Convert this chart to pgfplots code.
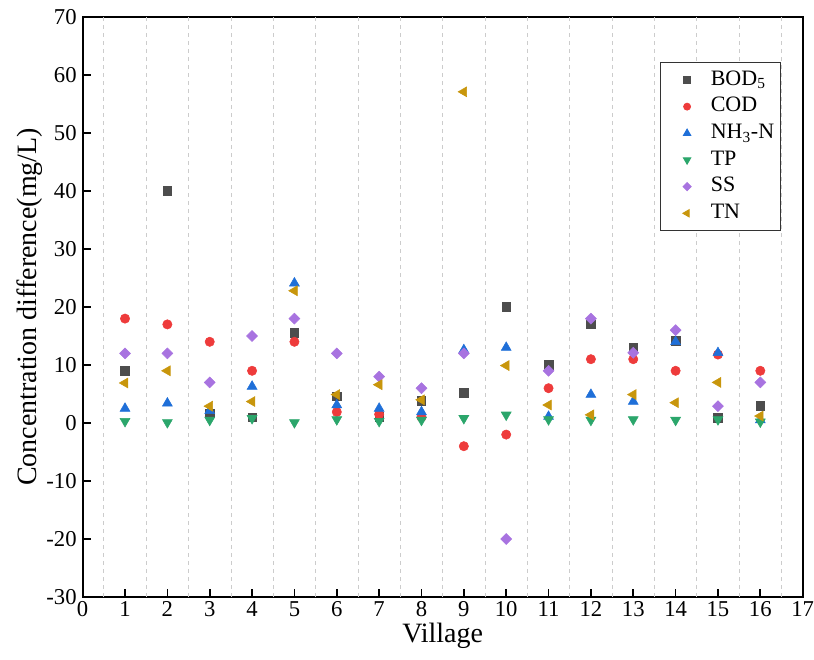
\documentclass[border=0pt]{standalone}
\usepackage{fontspec}
\setmainfont{Liberation Serif}
\usepackage{pgfplots}
\pgfplotsset{compat=1.18}
\definecolor{cBOD}{HTML}{4D4D4D}
\definecolor{cCOD}{HTML}{EE3B3B}
\definecolor{cNH}{HTML}{1F6FD8}
\definecolor{cTP}{HTML}{2BA66B}
\definecolor{cSS}{HTML}{A873E0}
\definecolor{cTN}{HTML}{C8960C}
\begin{document}
\begin{tikzpicture}
\begin{axis}[
  width=540pt, height=435pt, scale only axis,
  xmin=0, xmax=17, ymin=-30, ymax=70,
  xtick={0,1,...,17}, ytick={-30,-20,...,70},
  tick pos=left, tick align=inside,
  major tick length=6pt,
  axis line style={line width=1.5pt},
  every tick/.style={black, line width=1.3pt},
  /pgf/number format/assume math mode=true,
  ticklabel style={font=\fontsize{17}{17}\selectfont},
  yticklabel style={xshift=-1pt},
  extra x ticks={0.5,1.5,...,16.5},
  extra x tick style={grid=major, major tick length=0pt, xticklabels={}},
  major grid style={gray!40, dashed, line width=0.6pt},
  xlabel={Village}, ylabel={Concentration difference(mg/L)},
  label style={font=\fontsize{21}{21}\selectfont},
  xlabel style={yshift=2pt},
  ylabel style={yshift=-4pt},
  only marks, mark size=3.5pt,
  legend style={at={(0.802,0.922)}, anchor=north west, draw=black!80, line width=0.6pt,
    font=\fontsize{16.5}{20}\selectfont, row sep=0pt, inner xsep=4pt, inner ysep=3pt,
    nodes={inner sep=1pt, text height=13pt, text depth=5pt},
    legend cell align=left},
  legend image code/.code={\path (0cm,0cm) (1.15cm,0cm);
    \draw[#1,/tikz/every mark/.append style={scale=0.75}] plot coordinates {(0.56cm,0cm)};},
]
\addplot[draw=none, mark=square*, mark size=3.2pt, mark options={fill=cBOD, draw=cBOD}] coordinates {
 (1,9) (2,40) (3,1.7) (4,1.0) (5,15.6) (6,4.6) (7,1.1) (8,3.8) (9,5.2) (10,20) (11,10) (12,17) (13,13) (14,14.2) (15,0.9) (16,3)};
\addlegendentry{BOD\textsubscript{5}}
\addplot[draw=none, mark=*, mark options={fill=cCOD, draw=cCOD}] coordinates {
 (1,18) (2,17) (3,14) (4,9) (5,14) (6,1.9) (7,1.5) (8,1.0) (9,-4) (10,-2) (11,6) (12,11) (13,11) (14,9) (15,11.8) (16,9)};
\addlegendentry{COD}
\addplot[draw=none, mark=triangle*, mark size=4.3pt, mark options={fill=cNH, draw=cNH}] coordinates {
 (1,2.5) (2,3.4) (3,2.1) (4,6.3) (5,24.1) (6,3.1) (7,2.5) (8,1.9) (9,12.6) (10,13) (11,1.1) (12,4.9) (13,3.7) (14,14) (15,12.1) (16,0.5)};
\addlegendentry{NH\textsubscript{3}-N}
\addplot[draw=none, mark=triangle*, mark size=4.3pt, mark options={fill=cTP, draw=cTP, rotate=180}] coordinates {
 (1,0.3) (2,0.1) (3,0.5) (4,0.8) (5,0.1) (6,0.6) (7,0.3) (8,0.5) (9,0.8) (10,1.4) (11,0.6) (12,0.5) (13,0.6) (14,0.5) (15,0.6) (16,0.2)};
\addlegendentry{TP}
\addplot[draw=none, mark=square*, mark size=2.9pt, mark options={fill=cSS, draw=cSS, rotate=45}] coordinates {
 (1,12) (2,12) (3,7) (4,15) (5,18) (6,12) (7,8) (8,6) (9,12) (10,-20) (11,9) (12,18) (13,12.1) (14,16) (15,2.9) (16,7)};
\addlegendentry{SS}
\addplot[draw=none, mark=triangle*, mark size=4.3pt, mark options={fill=cTN, draw=cTN, rotate=90}] coordinates {
 (1,6.9) (2,9) (3,2.9) (4,3.7) (5,22.8) (6,4.9) (7,6.6) (8,4.0) (9,57.1) (10,9.9) (11,3.1) (12,1.4) (13,4.9) (14,3.5) (15,7) (16,1.2)};
\addlegendentry{TN}
\addplot[black, line width=1.5pt, no marks, forget plot] coordinates {(0,0) (17,0)};
\end{axis}
\pgfresetboundingbox
\path ([xshift=-62pt, yshift=12.75pt]current axis.north west) rectangle ([xshift=8.5pt, yshift=-47pt]current axis.south east);
\end{tikzpicture}
\end{document}
